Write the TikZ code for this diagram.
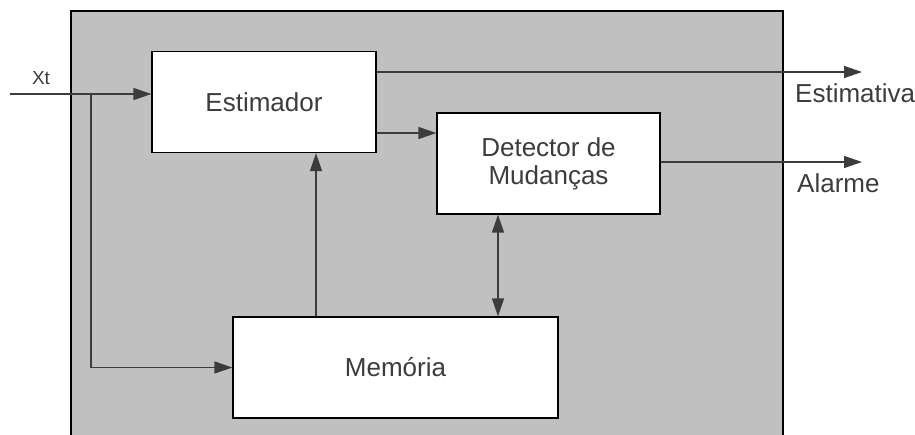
\documentclass[tikz,border=0pt]{standalone}
\usepackage{fontspec}
\setmainfont{Liberation Sans}
\usetikzlibrary{arrows.meta}
\definecolor{panel}{HTML}{C0C0C0}
\definecolor{ink}{HTML}{3C3C3C}
\begin{document}
\begin{tikzpicture}[x=1pt,y=-1pt,
  wire/.style={draw=ink,line width=1.4pt},
  tip/.style={-{Triangle[length=18pt,width=12pt]}},
  block/.style={draw=black,fill=white,line width=1.3pt,text=ink,
    font=\fontsize{26}{28}\selectfont,align=center,inner sep=0pt},
  lbl/.style={text=ink,font=\fontsize{26}{30}\selectfont,inner sep=0pt}]
\useasboundingbox (0,0) rectangle (915,434);
% grey system panel, open at the bottom
\fill[panel] (71,11) rectangle (783,440);
\draw[black,line width=1.3pt] (71,440) -- (71,11) -- (783,11) -- (783,440);

% blocks
\node[block,minimum width=224pt,minimum height=101pt] (est) at (264,102) {Estimador};
\node[block,minimum width=223pt,minimum height=101pt] (det) at (548.5,163.5) {Detector de\\Mudanças};
\node[block,minimum width=325pt,minimum height=101pt] (mem) at (395.5,367.5) {Memória};

% input
\coordinate (in) at (10,94);
\coordinate (br) at (91,94);
\node[text=ink,font=\fontsize{19}{22}\selectfont,inner sep=0pt] (xt) at (41,78) {Xt};
\draw[wire,tip] (in) -- (est.west |- in);
\draw[wire,tip] (br) |- (mem.west);

% outputs
\coordinate (o1) at (862,72);
\coordinate (o2) at (862,162);
\draw[wire,tip] (est.east |- o1) -- (o1);
\draw[wire,tip] (det.east |- o2) -- (o2);
\node[lbl,anchor=west] (l1) at (795,93) {Estimativa};
\node[lbl,anchor=west] (l2) at (797,183) {Alarme};

% internal connections
\draw[wire,tip] (est.east |- 0,133) -- (det.west |- 0,133);
\draw[wire,tip] (mem.north -| 316,0) -- (est.south -| 316,0);
\draw[wire,{Triangle[length=18pt,width=12pt]}-{Triangle[length=18pt,width=12pt]}]
  (det.south -| 498,0) -- (mem.north -| 498,0);
\end{tikzpicture}
\end{document}
